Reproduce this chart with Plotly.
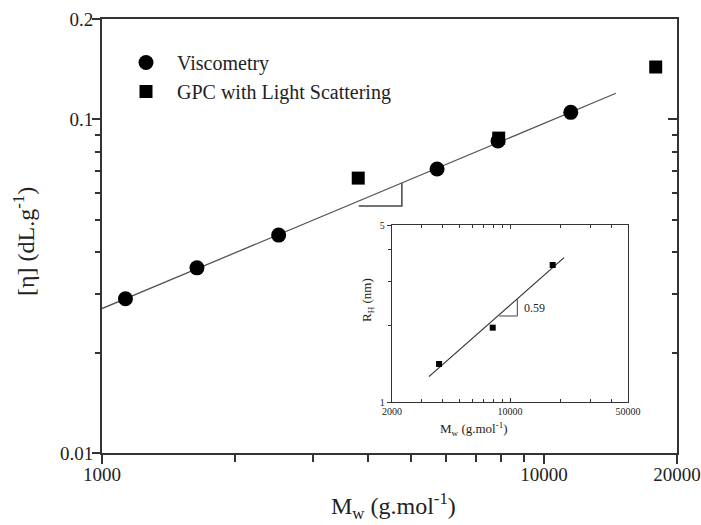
import math
import plotly.graph_objects as go

# ---- data ----
visc_mw = [1130, 1640, 2510, 5730, 7870, 11500]
visc_eta = [0.029, 0.0359, 0.045, 0.071, 0.0862, 0.105]
gpc_mw = [3800, 7900, 17900]
gpc_eta = [0.0667, 0.0879, 0.1436]
gpc_rh = [1.413, 1.966, 3.476]
fit_mw = [1000, 14550]
fit_eta = [0.0271, 0.1198]
tri_mw = [3810, 4770, 4770]
tri_eta = [0.0550, 0.0550, 0.0645]
inset_fit_mw = [3310, 20900]
inset_fit_rh = [1.259, 3.715]
inset_tri_mw = [8645, 11050, 11050]
inset_tri_rh = [2.186, 2.186, 2.544]
slope_label = "0.59"

x_major = [1000, 10000, 20000]
x_major_text = ["1000", "10000", "20000"]
x_minor = [2000, 3000, 4000, 5000, 6000, 7000, 8000, 9000]
y_major = [0.01, 0.1, 0.2]
y_major_text = ["0.01", "0.1", "0.2"]
y_minor = [0.02, 0.03, 0.04, 0.05, 0.06, 0.07, 0.08, 0.09]

ix_major = [2000, 10000, 50000]
ix_major_text = ["2000", "10000", "50000"]
ix_minor = [3000, 4000, 5000, 6000, 7000, 8000, 9000, 20000, 30000, 40000]
iy_major = [1, 5]
iy_major_text = ["1", "5"]
iy_minor = [2, 3, 4]

FONT = "Liberation Serif, Times New Roman, serif"
AX = "#333333"

# plot area in reference pixels: x 102..677, y 19..453
PL, PT, PW, PH = 102, 19, 575, 434


def px(xr):
    return (xr - PL) / PW


def py(yr):
    return (PT + PH - yr) / PH


XR = [3, math.log10(20000)]
YR = [-2, math.log10(0.2)]

fig = go.Figure()

fig.add_trace(go.Scatter(x=fit_mw, y=fit_eta, mode="lines",
                         line=dict(color="#555555", width=1.3), showlegend=False))
fig.add_trace(go.Scatter(x=tri_mw, y=tri_eta, mode="lines",
                         line=dict(color="#444444", width=1.5), showlegend=False))
fig.add_trace(go.Scatter(x=visc_mw, y=visc_eta, mode="markers", name="Viscometry",
                         marker=dict(symbol="circle", size=15, color="black")))
fig.add_trace(go.Scatter(x=gpc_mw, y=gpc_eta, mode="markers", name="GPC with Light Scattering",
                         marker=dict(symbol="square", size=13, color="black")))
# invisible traces carrying the extra tick-only axes
fig.add_trace(go.Scatter(x=fit_mw, y=fit_eta, mode="lines", line=dict(width=0),
                         xaxis="x3", yaxis="y3", showlegend=False, hoverinfo="skip", opacity=0))
fig.add_trace(go.Scatter(x=fit_mw, y=fit_eta, mode="lines", line=dict(width=0),
                         xaxis="x", yaxis="y4", showlegend=False, hoverinfo="skip", opacity=0))

# inset
fig.add_trace(go.Scatter(x=inset_fit_mw, y=inset_fit_rh, mode="lines", xaxis="x2", yaxis="y2",
                         line=dict(color="#333333", width=1.2), showlegend=False))
fig.add_trace(go.Scatter(x=inset_tri_mw, y=inset_tri_rh, mode="lines", xaxis="x2", yaxis="y2",
                         line=dict(color="#444444", width=1), showlegend=False))
fig.add_trace(go.Scatter(x=gpc_mw, y=gpc_rh, mode="markers", xaxis="x2", yaxis="y2",
                         marker=dict(symbol="square", size=6, color="black"), showlegend=False))

minor_common = dict(tickmode="array", tickwidth=2, tickcolor=AX, showgrid=False)

fig.update_layout(
    width=701, height=525,
    margin=dict(l=PL, r=701 - PL - PW, t=PT, b=525 - PT - PH, autoexpand=False),
    paper_bgcolor="white", plot_bgcolor="white",
    font=dict(family=FONT, color="#222222", size=18),
    xaxis=dict(type="log", range=XR, showgrid=False, zeroline=False, automargin=False,
               showline=True, linecolor=AX, linewidth=2, mirror=True,
               tickmode="array", tickvals=x_major, ticktext=x_major_text,
               ticks="outside", ticklen=3, tickwidth=2, tickcolor=AX,
               tickfont=dict(size=19),
               minor=dict(tickvals=x_minor, ticks="outside", ticklen=7, **minor_common)),
    xaxis3=dict(type="log", range=XR, overlaying="x", side="bottom", anchor="y",
                showgrid=False, zeroline=False, showline=False, showticklabels=False,
                automargin=False, tickmode="array", tickvals=x_major,
                ticks="outside", ticklen=10, tickwidth=2, tickcolor=AX),
    yaxis=dict(type="log", range=YR, showgrid=False, zeroline=False, automargin=False,
               showline=True, linecolor=AX, linewidth=2, mirror=True,
               tickmode="array", tickvals=y_major, ticktext=y_major_text,
               ticks="outside", ticklen=3, tickwidth=2, tickcolor=AX,
               tickfont=dict(size=19),
               minor=dict(tickvals=y_minor, ticks="outside", ticklen=5, **minor_common)),
    yaxis4=dict(type="log", range=YR, overlaying="y", side="left", anchor="x",
                showgrid=False, zeroline=False, showline=False, showticklabels=False,
                automargin=False, tickmode="array", tickvals=y_major,
                ticks="outside", ticklen=9, tickwidth=2, tickcolor=AX),
    yaxis3=dict(type="log", range=YR, overlaying="y", side="right", anchor="x3",
                automargin=False,
                showgrid=False, zeroline=False, showline=False, showticklabels=False,
                tickmode="array", tickvals=[0.01, 0.1], ticks="inside", ticklen=9,
                tickwidth=2, tickcolor=AX,
                minor=dict(tickvals=y_minor, ticks="inside", ticklen=5, **minor_common)),
    xaxis2=dict(type="log", range=[math.log10(2000), math.log10(50000)],
                domain=[px(392), px(628)], anchor="y2", showgrid=False, zeroline=False,
                automargin=False,
                showline=True, linecolor=AX, linewidth=1.3, mirror="ticks",
                tickmode="array", tickvals=ix_major, ticktext=ix_major_text,
                ticks="inside", ticklen=4, tickwidth=1, tickcolor=AX,
                tickfont=dict(size=10),
                minor=dict(tickmode="array", tickvals=ix_minor, ticks="inside",
                           ticklen=3, tickwidth=1, tickcolor=AX, showgrid=False)),
    yaxis2=dict(type="log", range=[0, math.log10(5)],
                domain=[py(402), py(225)], anchor="x2", showgrid=False, zeroline=False,
                automargin=False,
                showline=True, linecolor=AX, linewidth=1.3, mirror=True,
                tickmode="array", tickvals=iy_major, ticktext=iy_major_text,
                ticks="outside", ticklen=4, tickwidth=1, tickcolor=AX,
                tickfont=dict(size=10),
                minor=dict(tickmode="array", tickvals=iy_minor, ticks="outside",
                           ticklen=3, tickwidth=1, tickcolor=AX, showgrid=False)),
    legend=dict(x=px(115), y=py(43), xanchor="left", yanchor="top",
                font=dict(size=20, family=FONT, color="#222222"),
                itemwidth=52,
                bgcolor="rgba(0,0,0,0)", borderwidth=0, tracegroupgap=0),
    annotations=[
        dict(text="[η] (dL.g<sup>-1</sup>)", xref="paper", yref="paper",
             x=px(7), y=py(242), textangle=-90, showarrow=False,
             font=dict(size=24, family=FONT, color="#222222")),
        dict(text="M<sub>w</sub> (g.mol<sup>-1</sup>)", xref="paper", yref="paper",
             x=px(393), y=py(525), showarrow=False,
             font=dict(size=24, family=FONT, color="#222222")),
        dict(text="R<sub>H</sub> (nm)", xref="paper", yref="paper",
             x=px(367), y=py(300), textangle=-90, showarrow=False,
             font=dict(size=13, family=FONT, color="#222222")),
        dict(text="M<sub>w</sub> (g.mol<sup>-1</sup>)", xref="paper", yref="paper",
             x=px(510), y=py(440), showarrow=False,
             font=dict(size=13, family=FONT, color="#222222")),
        dict(text=slope_label, xref="x2", yref="y2",
             x=math.log10(11780), y=math.log10(2.357), xanchor="left", showarrow=False,
             font=dict(size=12, family=FONT, color="#222222")),
    ],
)

fig.write_html("out.html",
               config={"displayModeBar": False},
               post_script="document.body.style.margin='0';"
                           "document.body.style.overflow='hidden';")
